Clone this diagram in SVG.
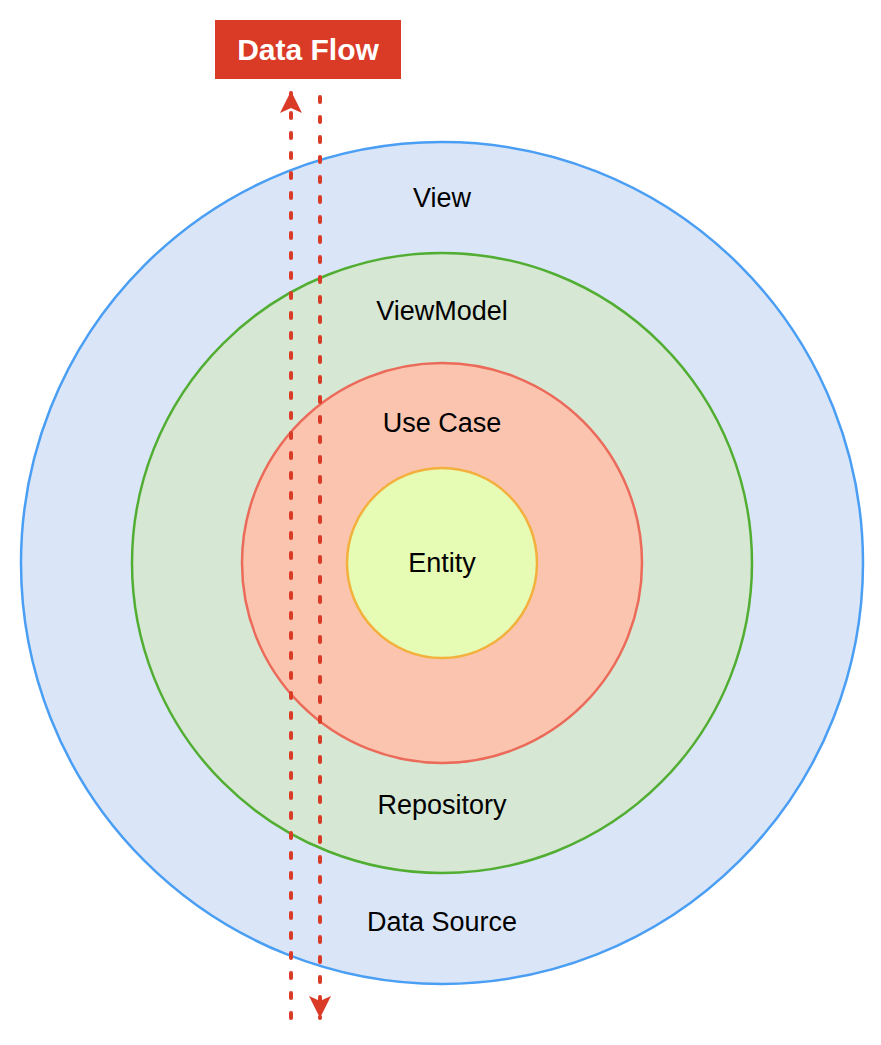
<svg xmlns="http://www.w3.org/2000/svg" width="881" height="1045" viewBox="0 0 881 1045">
<style>
.lbl{font-family:"Liberation Sans",Arial,sans-serif;font-size:27px;fill:#000;text-anchor:middle}
.flow{stroke:#DA3B26;stroke-width:4;stroke-linecap:round;stroke-dasharray:5 15;fill:none}
</style>
<defs>
<marker id="ah" viewBox="0 0 22 22" refX="22" refY="11" markerWidth="22" markerHeight="22" markerUnits="userSpaceOnUse" orient="auto">
<path d="M0,0 L22,11 L0,22 L5,11 Z" fill="#DA3B26"/>
</marker>
</defs>
<rect width="881" height="1045" fill="#fff"/>
<g id="view"><circle cx="442" cy="563" r="421" fill="#DAE6F8" stroke="#4A9EF4" stroke-width="2.5"/><text class="lbl" x="442" y="207">View</text><text class="lbl" x="442" y="931">Data Source</text></g>
<g id="viewmodel"><circle cx="442" cy="563" r="310" fill="#D6E7D4" stroke="#52AE33" stroke-width="2.5"/><text class="lbl" x="442" y="320">ViewModel</text><text class="lbl" x="442" y="814">Repository</text></g>
<g id="usecase"><circle cx="442" cy="563" r="200" fill="#FAC4AF" stroke="#EB6A59" stroke-width="2.5"/><text class="lbl" x="442" y="432">Use Case</text></g>
<g id="entity"><circle cx="442" cy="563" r="95" fill="#E6FBB3" stroke="#F4B03D" stroke-width="2.5"/><text class="lbl" x="442" y="572">Entity</text></g>
<g id="dataflow"><rect x="215" y="20" width="186" height="59" fill="#DA3B26"/><text x="308" y="60" font-family="Liberation Sans,Arial,sans-serif" font-size="30" font-weight="bold" fill="#fff" text-anchor="middle">Data Flow</text></g>
<g id="connectors">
<path class="flow" d="M291,1018 L291,91" marker-end="url(#ah)"/>
<path class="flow" d="M320,97 L320,1018" marker-end="url(#ah)"/>
</g>
</svg>
